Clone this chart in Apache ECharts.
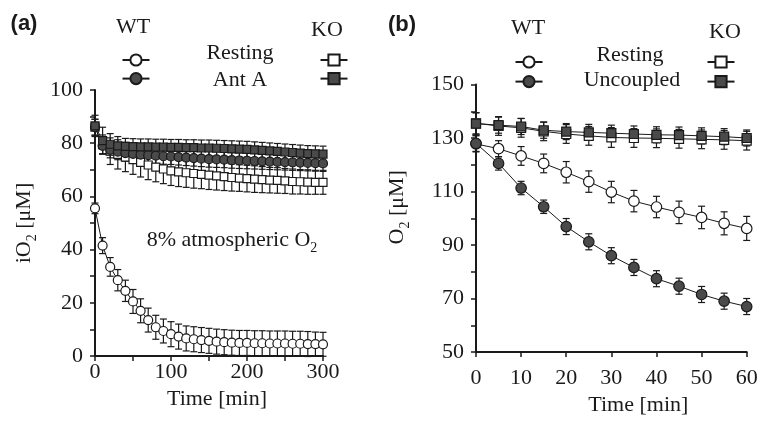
<!DOCTYPE html>
<html><head><meta charset="utf-8">
<script src="https://cdn.jsdelivr.net/npm/echarts@6/dist/echarts.min.js"></script>
<style>html,body{margin:0;padding:0;background:#fff}#c{width:764px;height:421px}</style>
</head><body><div id="c"></div>
<script>
// ---------- Panel (a) data ----------
const timeA = [0,10,20,30,40,50,60,70,80,90,100,110,120,130,140,150,160,170,180,190,200,210,220,230,240,250,260,270,280,290,300];
const aWtRest = [55.5,41.5,33.5,28.5,24.5,20.5,17,13.5,10.8,9.4,8.2,7.3,6.6,6.3,6.0,5.7,5.4,5.2,5.0,4.9,4.9,4.8,4.8,4.7,4.7,4.7,4.6,4.6,4.5,4.5,4.4];
const aWtRestErr = [2,3,3.5,4,4,4.5,4.5,4.5,4.5,4.5,4.7,4.7,4.7,4.7,4.7,4.7,4.7,4.7,4.7,4.7,4.7,4.7,4.7,4.7,4.7,4.7,4.7,4.7,4.7,4.5,4.5];
const aWtAnt = [86,79,77.5,76.8,76.3,76,75.7,75.5,75.3,75.1,75,74.8,74.6,74.4,74.2,74,73.9,73.8,73.6,73.5,73.4,73.3,73.2,73.1,73,72.9,72.8,72.7,72.6,72.5,72.4];
const aWtAntErr = [3,3,3,3,3,3,3,3,3,3,3,3,3,3,3,3,3,3,3,3,3,3,3,3,3,3,3,3,3,3,3];
const aKoRest = [86,79.5,77,75.8,74.8,73.8,72.8,71.8,71,70.3,69.6,69.2,68.9,68.6,68.3,68,67.7,67.4,67.1,66.9,66.7,66.5,66.3,66.1,66,65.8,65.6,65.5,65.4,65.3,65.3];
const aKoRestErr = [3,3.6,5,5.5,5.5,5.5,5.5,5.5,5.5,5.5,5.5,5.5,5.5,5.5,5.4,5.4,5.3,5.2,5.1,5,5,5,4.9,4.8,4.8,4.7,4.7,4.6,4.6,4.5,4.5];
const aKoAnt = [86.5,81,79.6,79,78.8,78.7,78.6,78.6,78.5,78.5,78.4,78.4,78.3,78.3,78.2,78.2,78.1,78,77.9,77.8,77.7,77.5,77.3,77.1,76.9,76.7,76.5,76.3,76.1,76,75.9];
const aKoAntErr = [4,5,4,3.5,3,3,3,3,3,3,3,3,3,3,3,3,3,3,3,3,3,3,3,3,3,3,3,3,3,3,3];

// ---------- Panel (b) data ----------
const timeB = [0,5,10,15,20,25,30,35,40,45,50,55,60];
const bWtRest = [127.8,126,123.3,120.5,117.2,113.7,109.8,106.4,104.2,102.2,100.3,98.1,96.2];
const bWtRestErr = [3,3,3.5,3.5,4,4,4,4,4,4.2,4.2,4.3,4.5];
const bWtUnc = [128,120.5,111.3,104.3,96.9,91.2,86,81.6,77.4,74.6,71.5,69,67];
const bWtUncErr = [3,2.5,2.5,2.5,3,3,3,3,3,3,3,3,3];
const bKoRest = [135.5,134.5,133.8,132.5,131.5,130.8,130.2,130,129.9,129.7,129.5,129.3,129];
const bKoRestErr = [4,3.5,3.5,3.5,3.5,3.5,3.7,3.5,3.5,3.5,3.5,3.5,3.5];
const bKoUnc = [135.4,134.8,134.3,132.9,132.4,132.1,131.8,131.5,131.2,131.1,130.8,130.5,130];
const bKoUncErr = [4,3,3,3,3,3,3,3,3,3,3,3,3];

// ---------- Tick settings ----------
const aXTicks = {min:0, max:300, interval:100};
const aYTicks = {min:0, max:100, interval:20};
const bXTicks = {min:0, max:60, interval:10};
const bYTicks = {min:50, max:150, interval:20};

const SERIF = 'Liberation Serif';
const INK = '#1a1a1a';
const DARK = '#4a4a4a';

function pairs(t, v){ return t.map((x,i)=>[x, v[i]]); }

function errSeries(ax, times, vals, errs, z){
  return {
    type:'custom', xAxisIndex:ax, yAxisIndex:ax, z:z, silent:true, clip:false,
    data: times.map((t,i)=>[t, vals[i]-errs[i], vals[i]+errs[i]]),
    encode:{x:0, y:[1,2]},
    renderItem:function(params, api){
      const lo = api.coord([api.value(0), api.value(1)]);
      const hi = api.coord([api.value(0), api.value(2)]);
      const w = 3.5;
      const st = {stroke:INK, lineWidth:1.2};
      return {type:'group', children:[
        {type:'line', shape:{x1:lo[0],y1:lo[1],x2:hi[0],y2:hi[1]}, style:st},
        {type:'line', shape:{x1:lo[0]-w,y1:lo[1],x2:lo[0]+w,y2:lo[1]}, style:st},
        {type:'line', shape:{x1:hi[0]-w,y1:hi[1],x2:hi[0]+w,y2:hi[1]}, style:st}
      ]};
    }
  };
}

function lineSeries(name, ax, times, vals, symbol, size, fill, z){
  return {
    type:'line', name:name, xAxisIndex:ax, yAxisIndex:ax, z:z,
    data: pairs(times, vals), symbol:symbol, symbolSize:size, showSymbol:true,
    lineStyle:{color:INK, width:1}, itemStyle:{color:fill, borderColor:INK, borderWidth:1.2},
    emphasis:{disabled:true}, animation:false
  };
}

function xAxisCfg(grid, t, nameGap, pad, margin){
  return {
    gridIndex:grid, type:'value', min:t.min, max:t.max, interval:t.interval,
    axisLine:{onZero:false, lineStyle:{color:INK, width:2}},
    axisTick:{length:5, lineStyle:{color:INK, width:1.5}},
    minorTick:{show: grid===0, splitNumber:2, length:5, lineStyle:{color:INK, width:1.5}},
    splitLine:{show:false},
    axisLabel:{fontFamily:SERIF, fontSize:22, color:INK, margin:margin},
    name:'Time [min]', nameLocation:'middle', nameGap:nameGap,
    nameTextStyle:{fontFamily:SERIF, fontSize:22, color:INK, padding:pad}
  };
}
function yAxisCfg(grid, t, nameRich, nameGap, pad){
  return {
    gridIndex:grid, type:'value', min:t.min, max:t.max, interval:t.interval,
    axisLine:{onZero:false, lineStyle:{color:INK, width:2}},
    axisTick:{length:5, lineStyle:{color:INK, width:1.5}},
    minorTick:{show:true, splitNumber:2, length:5, lineStyle:{color:INK, width:1.5}},
    splitLine:{show:false},
    axisLabel:{fontFamily:SERIF, fontSize:22, color:INK, margin:12},
    name:nameRich, nameLocation:'middle', nameGap:nameGap,
    nameTextStyle:{fontFamily:SERIF, fontSize:22, color:INK, padding:pad,
      rich:{m:{fontFamily:SERIF, fontSize:22, color:INK, lineHeight:30},
            s:{fontFamily:SERIF, fontSize:14, color:INK, lineHeight:14, verticalAlign:'bottom'}}}
  };
}

function legendCfg(names, left, top, gap){
  return {data:names, orient:'vertical', left:left, top:top, itemWidth:27, itemHeight:14,
    itemGap:gap, formatter:function(){return '';}, selectedMode:false, padding:0,
    textStyle:{fontSize:1}};
}

function txt(x, y, text, size, family, weight, rich){
  const style = {text:text, x:0, y:0, align:'center', verticalAlign:'middle',
    fontFamily:family||SERIF, fontSize:size||22, fontWeight:weight||'normal', fill:INK};
  if (rich) style.rich = rich;
  return {type:'text', x:x, y:y, style:style, silent:true};
}

const chart = echarts.init(document.getElementById('c'), null, {renderer:'canvas'});
chart.setOption({
  animation:false,
  backgroundColor:'#fff',
  grid:[
    {left:95, top:90, width:228, height:266},
    {left:476, top:84.5, width:270.7, height:272.5}
  ],
  xAxis:[xAxisCfg(0, aXTicks, 31, [0,0,0,16], 5), xAxisCfg(1, bXTicks, 42, [0,0,0,54], 15)],
  yAxis:[
    yAxisCfg(0, aYTicks, '{m|iO}{s|2}{m| [μM]}', 56, [0,0,0,0]),
    yAxisCfg(1, bYTicks, '{m|O}{s|2}{m| [μM]}', 64, [0,0,0,22])
  ],
  legend:[
    legendCfg(['WT Resting (a)','WT Ant A (a)'], 121.5, 53, 5),
    legendCfg(['KO Resting (a)','KO Ant A (a)'], 319.5, 53, 5),
    legendCfg(['WT Resting (b)','WT Uncoupled (b)'], 514.5, 55, 6),
    legendCfg(['KO Resting (b)','KO Uncoupled (b)'], 706.5, 55, 6)
  ],
  series:[
    errSeries(0, timeA, aKoRest, aKoRestErr, 1),
    errSeries(0, timeA, aWtAnt, aWtAntErr, 1),
    errSeries(0, timeA, aKoAnt, aKoAntErr, 1),
    errSeries(0, timeA, aWtRest, aWtRestErr, 1),
    lineSeries('KO Resting (a)', 0, timeA, aKoRest, 'rect', 8, '#fff', 2),
    lineSeries('WT Ant A (a)', 0, timeA, aWtAnt, 'circle', 9, DARK, 3),
    lineSeries('KO Ant A (a)', 0, timeA, aKoAnt, 'rect', 8, DARK, 4),
    lineSeries('WT Resting (a)', 0, timeA, aWtRest, 'circle', 9, '#fff', 5),

    errSeries(1, timeB, bKoRest, bKoRestErr, 1),
    errSeries(1, timeB, bKoUnc, bKoUncErr, 1),
    errSeries(1, timeB, bWtRest, bWtRestErr, 1),
    errSeries(1, timeB, bWtUnc, bWtUncErr, 1),
    lineSeries('KO Resting (b)', 1, timeB, bKoRest, 'rect', 9, '#fff', 2),
    lineSeries('KO Uncoupled (b)', 1, timeB, bKoUnc, 'rect', 9, DARK, 3),
    lineSeries('WT Resting (b)', 1, timeB, bWtRest, 'circle', 10.5, '#fff', 4),
    lineSeries('WT Uncoupled (b)', 1, timeB, bWtUnc, 'circle', 10.5, DARK, 5)
  ],
  graphic:[
    txt(24, 24, '(a)', 22, 'Liberation Sans', 'bold'),
    txt(133, 27, 'WT'), txt(327, 30, 'KO'),
    txt(240, 53, 'Resting'), txt(240, 80, 'Ant A'),
    txt(232, 240, '{m|8% atmospheric O}{s|2}', 22, SERIF, 'normal',
      {m:{fontFamily:SERIF, fontSize:22, color:INK, lineHeight:30},
       s:{fontFamily:SERIF, fontSize:14, color:INK, lineHeight:14, verticalAlign:'bottom'}}),
    txt(402, 25, '(b)', 22, 'Liberation Sans', 'bold'),
    txt(528, 28, 'WT'), txt(725, 32, 'KO'),
    txt(630, 55, 'Resting'), txt(632, 80, 'Uncoupled')
  ]
});
</script></body></html>
